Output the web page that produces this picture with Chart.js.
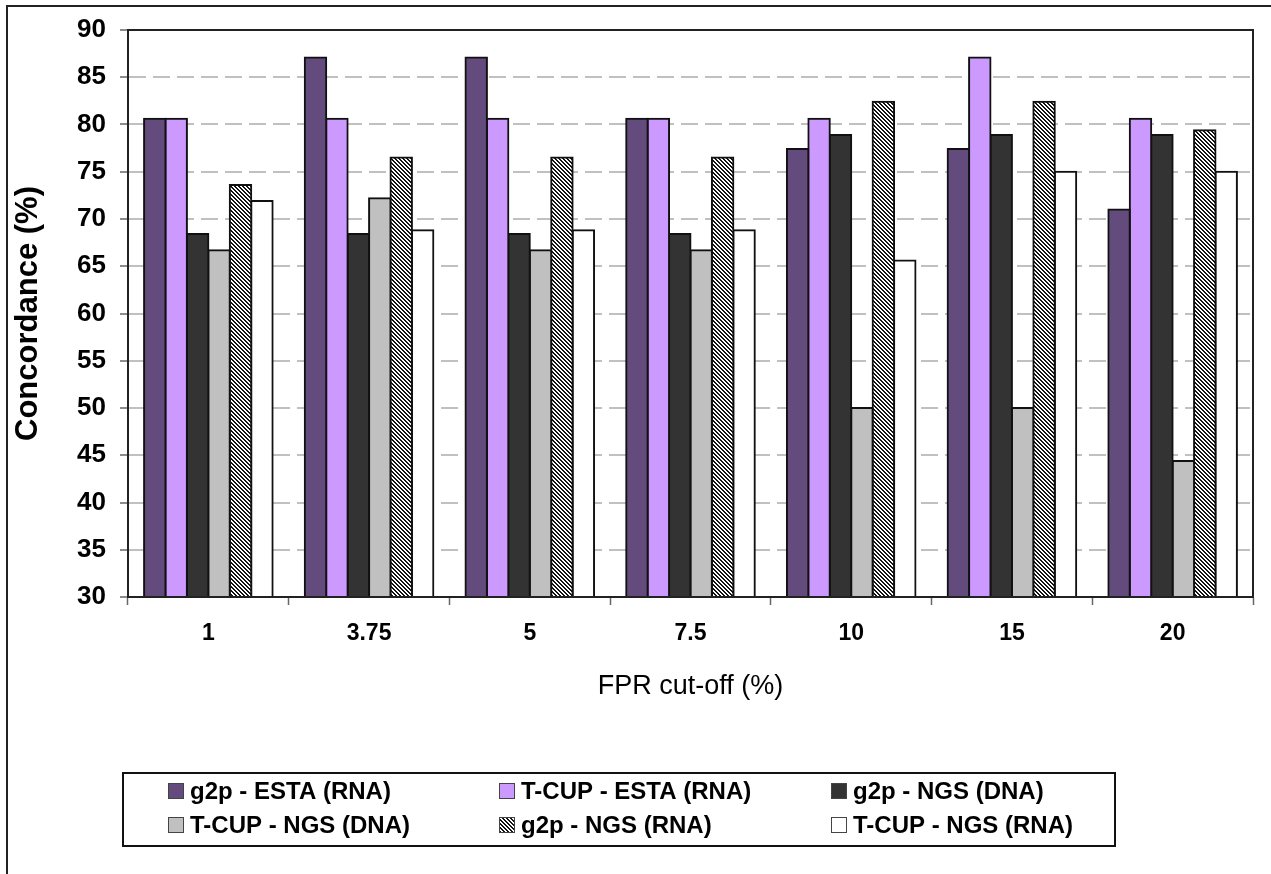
<!DOCTYPE html>
<html>
<head>
<meta charset="utf-8">
<title>Concordance by FPR cut-off</title>
<script src="https://cdn.jsdelivr.net/npm/chart.js@4.4.1/dist/chart.umd.min.js"></script>
<style>
  html, body { margin: 0; padding: 0; background: #fff; overflow: hidden; }
  #wrap { position: relative; width: 1271px; height: 874px; }
  #frame {
    position: absolute; left: 6px; top: 5px; width: 1400px; height: 1000px;
    border-left: 2px solid #222; border-top: 2px solid #222; pointer-events: none;
  }
  canvas { position: absolute; left: 0; top: 0; }
</style>
</head>
<body>
<div id="wrap">
  <canvas id="concordance-chart" width="1271" height="874"></canvas>
  <div id="frame"></div>
</div>
<script>
'use strict';

// *************** DATA
let cutOffs = ['1', '3.75', '5', '7.5', '10', '15', '20'];

let g2pEsta = [80.6, 87.1, 87.1, 80.6, 77.4, 77.4, 71.0];
let tcupEsta = [80.6, 80.6, 80.6, 80.6, 80.6, 87.1, 80.6];
let g2pNgsDna = [68.4, 68.4, 68.4, 68.4, 78.9, 78.9, 78.9];
let tcupNgsDna = [66.7, 72.2, 66.7, 66.7, 50.0, 50.0, 44.4];
let g2pNgsRna = [73.6, 76.5, 76.5, 76.5, 82.4, 82.4, 79.4];
let tcupNgsRna = [71.9, 68.8, 68.8, 68.8, 65.6, 75.0, 75.0];

let yMin = 30;
let yMax = 90;
let yStep = 5;

let fontFamily = '"Liberation Sans", Arial, Helvetica, sans-serif';

// *************** HELPERS

// dark downward diagonal hatch, like the excel pattern fill
function makeHatch() {
  let size = 4;
  let tile = document.createElement('canvas');
  tile.width = size;
  tile.height = size;
  let tctx = tile.getContext('2d');
  let img = tctx.createImageData(size, size);
  for (let y = 0; y < size; y++) {
    for (let x = 0; x < size; x++) {
      let d = ((x - y) % size + size) % size;
      let v = (d === 0 || d === 1) ? 20 : 255;
      let i = (y * size + x) * 4;
      img.data[i] = v;
      img.data[i + 1] = v;
      img.data[i + 2] = v;
      img.data[i + 3] = 255;
    }
  }
  tctx.putImageData(img, 0, 0);
  return tctx.createPattern(tile, 'repeat');
}

let ctx = document.getElementById('concordance-chart');
let hatch = makeHatch();

function barSet(label, data, fill) {
  return {
    label: label,
    data: data,
    backgroundColor: fill,
    borderColor: '#111',
    borderWidth: 2,
    inflateAmount: 1,
    categoryPercentage: 0.8,
    barPercentage: 1.0
  };
}

// box round the plot area
let plotFrame = {
  id: 'plotFrame',
  afterDatasetsDraw(chart) {
    let a = chart.chartArea;
    let c = chart.ctx;
    c.save();
    c.strokeStyle = '#222';
    c.lineWidth = 2;
    c.strokeRect(a.left, a.top, a.right - a.left, a.bottom - a.top);
    c.restore();
  }
};

// legend in a box, three columns and two rows
let boxLegend = {
  id: 'boxLegend',
  afterDraw(chart) {
    let c = chart.ctx;
    let sets = chart.data.datasets;
    let colX = [168, 499, 831];
    let rowY = [791, 825];
    c.save();
    c.strokeStyle = '#111';
    c.lineWidth = 2;
    c.strokeRect(123, 773, 992, 73);
    c.font = 'bold 24px ' + fontFamily;
    c.textBaseline = 'middle';
    c.textAlign = 'left';
    for (let i = 0; i < sets.length; i++) {
      let x = colX[i % 3];
      let y = rowY[Math.floor(i / 3)];
      c.fillStyle = sets[i].backgroundColor;
      c.fillRect(x, y - 8, 16, 16);
      c.strokeStyle = '#444';
      c.lineWidth = 1;
      c.strokeRect(x + 0.5, y - 7.5, 15, 15);
      c.fillStyle = '#000';
      c.fillText(sets[i].label, x + 22, y + 1);
    }
    c.restore();
  }
};

// *************** CHART
let chartObj = {
  type: 'bar',
  data: {
    labels: cutOffs,
    datasets: [
      barSet('g2p - ESTA (RNA)', g2pEsta, '#634b7d'),
      barSet('T-CUP - ESTA (RNA)', tcupEsta, '#cc99ff'),
      barSet('g2p - NGS (DNA)', g2pNgsDna, '#333333'),
      barSet('T-CUP - NGS (DNA)', tcupNgsDna, '#c0c0c0'),
      barSet('g2p - NGS (RNA)', g2pNgsRna, hatch),
      barSet('T-CUP - NGS (RNA)', tcupNgsRna, '#ffffff')
    ]
  },
  options: {
    responsive: false,
    animation: false,
    layout: {
      padding: { left: 0, top: 30, right: 18, bottom: 171 }
    },
    plugins: {
      legend: { display: false },
      title: { display: false },
      tooltip: { enabled: false }
    },
    scales: {
      x: {
        afterFit(scale) { scale.height = 106; },
        grid: {
          offset: true,
          drawOnChartArea: false,
          drawTicks: true,
          tickLength: 8,
          tickColor: '#666',
          tickWidth: 1.5
        },
        border: { display: true, color: '#222', width: 2 },
        ticks: {
          color: '#000',
          padding: 15,
          font: { family: fontFamily, size: 23, weight: 'bold' }
        },
        title: {
          display: true,
          text: 'FPR cut-off (%)',
          color: '#000',
          padding: { top: 0, bottom: 0 },
          font: { family: fontFamily, size: 27, weight: 'normal' }
        }
      },
      y: {
        min: yMin,
        max: yMax,
        afterFit(scale) { scale.width = 128; },
        grid: {
          color: '#c0c0c0',
          lineWidth: 2,
          drawTicks: true,
          tickLength: 8,
          tickColor: '#666',
          tickWidth: 1.5,
          tickBorderDash: []
        },
        border: { display: true, color: '#222', width: 2, dash: [17, 7] },
        ticks: {
          stepSize: yStep,
          color: '#000',
          padding: 14,
          font: { family: fontFamily, size: 26, weight: 'bold' }
        },
        title: {
          display: true,
          text: 'Concordance (%)',
          color: '#000',
          padding: { top: 10, bottom: 0 },
          font: { family: fontFamily, size: 31, weight: 'bold' }
        }
      }
    }
  },
  plugins: [plotFrame, boxLegend]
};

new Chart(ctx, chartObj); // eslint-disable-line
</script>
</body>
</html>
